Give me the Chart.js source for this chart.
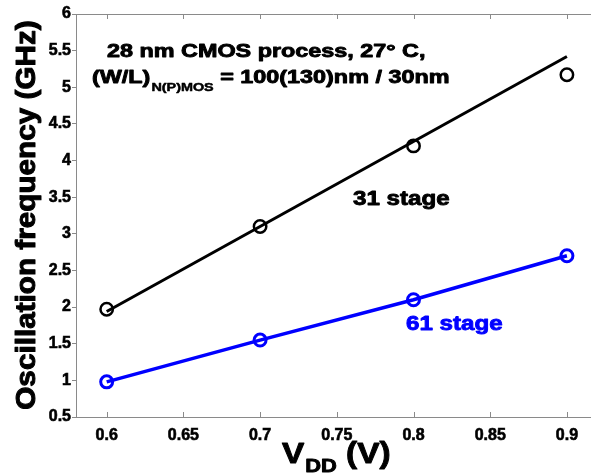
<!DOCTYPE html>
<html>
<head>
<meta charset="utf-8">
<script src="https://cdn.jsdelivr.net/npm/chart.js@4.4.1/dist/chart.umd.min.js"></script>
<style>
  html, body { margin: 0; padding: 0; background: #fff; }
  #wrap { width: 591px; height: 474px; }
</style>
</head>
<body>
<div id="wrap"><canvas id="osc" width="591" height="474"></canvas></div>
<script>
        // Data
        const vdd = [0.6, 0.7, 0.8, 0.9];
        const freq31 = [1.97, 3.10, 4.20, 5.17];
        const freq61 = [0.98, 1.55, 2.10, 2.70];
        // straight fit drawn through the 31 stage points
        const fitVdd = [0.6, 0.9];
        const fit31 = [1.94, 5.42];

        const xTicks = [0.6, 0.65, 0.7, 0.75, 0.8, 0.85, 0.9];
        const yTicks = [0.5, 1, 1.5, 2, 2.5, 3, 3.5, 4, 4.5, 5, 5.5, 6];

        const FONT = '"Liberation Sans", Arial, Helvetica, sans-serif';
        const AXIS_GRAY = '#8a8a8a';

        function pts(xs, ys) {
            return xs.map((x, i) => ({ x: x, y: ys[i] }));
        }

        // draw heavy bold text, stretched a bit horizontally like the original figure
        function wideText(ctx, str, x, y, size, sx, color) {
            ctx.save();
            ctx.font = 'bold ' + size + 'px ' + FONT;
            ctx.fillStyle = color;
            ctx.strokeStyle = color;
            ctx.lineWidth = size > 15 ? 0.9 : 0.5;
            ctx.lineJoin = 'round';
            ctx.textBaseline = 'alphabetic';
            ctx.textAlign = 'left';
            ctx.translate(x, y);
            ctx.scale(sx, 1);
            ctx.fillText(str, 0, 0);
            ctx.strokeText(str, 0, 0);
            const w = ctx.measureText(str).width * sx;
            ctx.restore();
            return w;
        }

        const decor = {
            id: 'decor',
            beforeDatasetsDraw(chart) {
                const ctx = chart.ctx;
                const area = chart.chartArea;
                const xs = chart.scales.x;
                ctx.save();
                ctx.strokeStyle = AXIS_GRAY;
                ctx.lineWidth = 1;
                // top frame line
                ctx.beginPath();
                ctx.moveTo(area.left, area.top + 0.5);
                ctx.lineTo(area.right, area.top + 0.5);
                ctx.stroke();
                // inward ticks on top and bottom
                xs.ticks.forEach(t => {
                    const px = Math.round(xs.getPixelForValue(t.value)) + 0.5;
                    ctx.beginPath();
                    ctx.moveTo(px, area.top);
                    ctx.lineTo(px, area.top + 5);
                    ctx.moveTo(px, area.bottom);
                    ctx.lineTo(px, area.bottom - 5);
                    ctx.stroke();
                });
                ctx.restore();
            },
            afterDraw(chart) {
                const ctx = chart.ctx;

                // annotation
                wideText(ctx, '28 nm CMOS process, 27\u00b0 C,', 107, 57, 19, 1.23, '#000');
                let x = 92;
                x += wideText(ctx, '(W/L)', x, 83, 19, 1.23, '#000');
                x += wideText(ctx, 'N(P)MOS', x + 1, 91, 11.5, 1.25, '#000') + 1;
                wideText(ctx, ' = 100(130)nm / 30nm', x, 83, 19, 1.23, '#000');

                // series labels
                wideText(ctx, '31 stage', 353, 205, 21, 1.15, '#000');
                wideText(ctx, '61 stage', 406, 330, 21, 1.15, '#0000ff');

                // x title with subscript
                let tx = 282;
                tx += wideText(ctx, 'V', tx, 463, 29, 1.15, '#000');
                tx += wideText(ctx, 'DD', tx + 1, 472, 19, 1.15, '#000') + 1;
                wideText(ctx, ' (V)', tx, 463, 29, 1.15, '#000');

                // y title, rotated
                ctx.save();
                ctx.translate(35, 215);
                ctx.rotate(-Math.PI / 2);
                ctx.scale(1.1, 1);
                ctx.font = 'bold 27px ' + FONT;
                ctx.fillStyle = '#000';
                ctx.strokeStyle = '#000';
                ctx.lineWidth = 1;
                ctx.lineJoin = 'round';
                ctx.textAlign = 'center';
                ctx.textBaseline = 'alphabetic';
                ctx.fillText('Oscillation frequency (GHz)', 0, 0);
                ctx.strokeText('Oscillation frequency (GHz)', 0, 0);
                ctx.restore();
            }
        };

        const oscChart = new Chart(document.getElementById('osc'), {
            type: 'scatter',
            data: {
                datasets: [
                    {
                        label: '31 stage fit',
                        data: pts(fitVdd, fit31),
                        showLine: true,
                        borderColor: '#000',
                        borderWidth: 3,
                        pointRadius: 0,
                        fill: false
                    },
                    {
                        label: '31 stage',
                        data: pts(vdd, freq31),
                        showLine: false,
                        pointStyle: 'circle',
                        pointRadius: 6.2,
                        pointBorderWidth: 2.5,
                        pointBorderColor: '#000',
                        pointBackgroundColor: 'rgba(0,0,0,0)'
                    },
                    {
                        label: '61 stage',
                        data: pts(vdd, freq61),
                        showLine: true,
                        borderColor: '#0000ff',
                        borderWidth: 3.5,
                        pointStyle: 'circle',
                        pointRadius: 6,
                        pointBorderWidth: 3,
                        pointBorderColor: '#0000ff',
                        pointBackgroundColor: 'rgba(0,0,0,0)',
                        fill: false
                    }
                ]
            },
            options: {
                responsive: false,
                animation: false,
                devicePixelRatio: 1,
                layout: { autoPadding: false, padding: { left: 0, top: 14, right: 0, bottom: 0 } },
                plugins: {
                    legend: { display: false },
                    tooltip: { enabled: false }
                },
                scales: {
                    x: {
                        type: 'linear',
                        min: 0.58,
                        max: 0.9157,
                        afterBuildTicks: s => { s.ticks = xTicks.map(v => ({ value: v })); },
                        afterFit: s => {
                            s.height = 57;
                            s.paddingLeft = 0;
                            s.paddingRight = 0;
                        },
                        grid: { display: true, drawOnChartArea: false, drawTicks: false },
                        border: { color: AXIS_GRAY, width: 1 },
                        ticks: {
                            padding: 9,
                            color: '#000',
                            textStrokeColor: '#000',
                            textStrokeWidth: 0.6,
                            maxRotation: 0,
                            font: { family: FONT, size: 16, weight: 'bold' },
                            callback: v => String(v)
                        }
                    },
                    y: {
                        type: 'linear',
                        min: 0.5,
                        max: 6,
                        afterBuildTicks: s => { s.ticks = yTicks.map(v => ({ value: v })); },
                        afterFit: s => {
                            s.width = 76;
                            s.paddingTop = 0;
                            s.paddingBottom = 0;
                        },
                        grid: { display: true, drawOnChartArea: false, drawTicks: true, tickLength: 4, color: AXIS_GRAY },
                        border: { color: AXIS_GRAY, width: 1 },
                        ticks: {
                            padding: 1,
                            color: '#000',
                            textStrokeColor: '#000',
                            textStrokeWidth: 0.6,
                            font: { family: FONT, size: 16, weight: 'bold' },
                            callback: v => String(v)
                        }
                    }
                }
            },
            plugins: [decor]
        });
</script>
</body>
</html>
